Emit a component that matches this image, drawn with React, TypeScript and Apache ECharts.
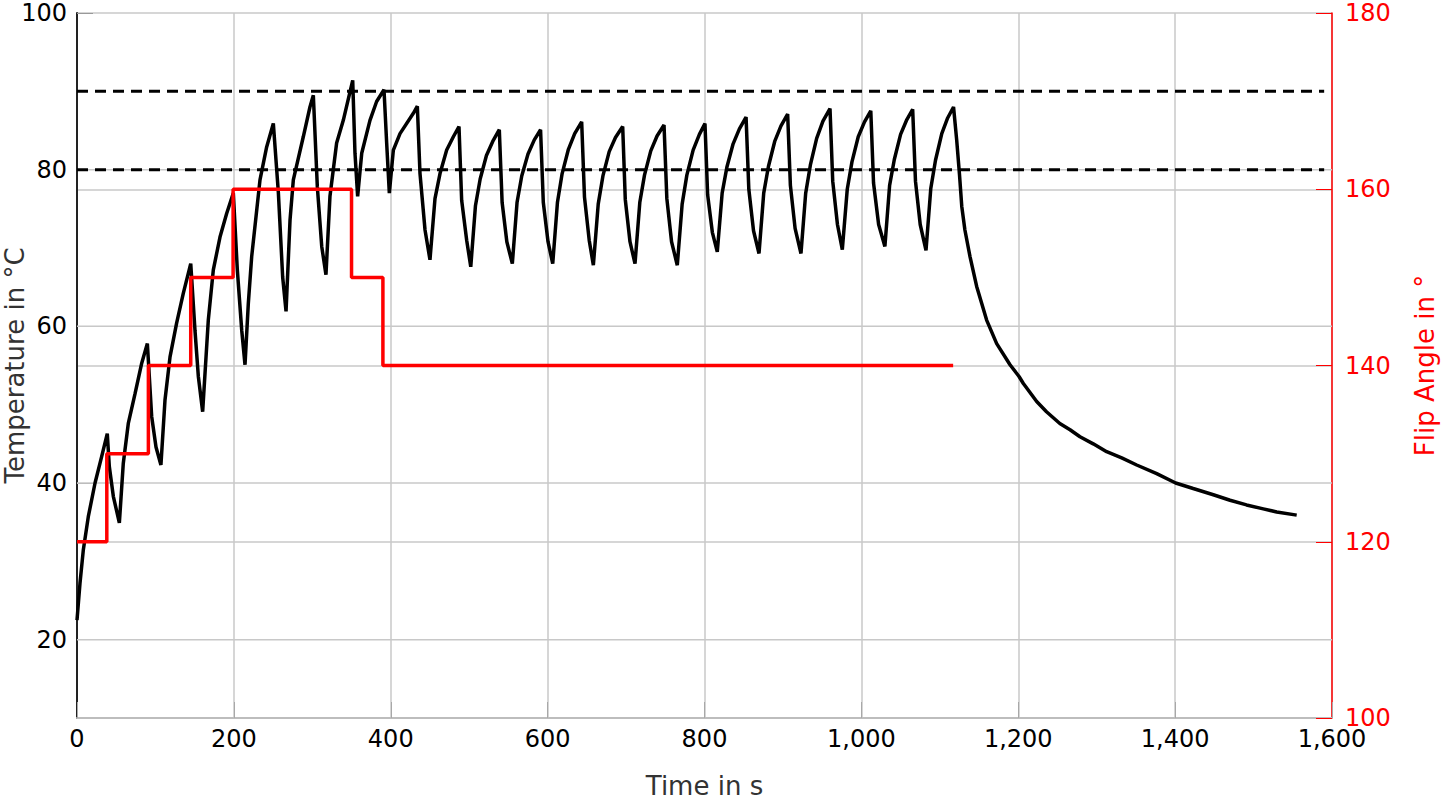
import { useEffect, useRef } from "react";
import * as echarts from "echarts";

// Temperature readings [time in s, temperature in °C]
const warmupPhase: [number, number][] = [
  [0, 22.5], [3.8, 27.2], [8, 31.4], [14.4, 35.7], [23, 40.0], [31.5, 43.4], [38.6, 46.3],
  [41.2, 42.1], [46.3, 38.3], [54, 34.9],
  [59, 42.5], [65.4, 47.6], [74, 51.4], [82.5, 55.3], [89.7, 57.8],
  [95.2, 48.5], [100.7, 44.6], [107, 42.3],
  [112.2, 50.6], [118.6, 56.1], [127, 60.4], [135.5, 64.2], [145, 68.0],
  [150.4, 59.5], [154.7, 53.6], [160.2, 49.1],
  [167.4, 60.8], [173.8, 67.2], [182.3, 71.4], [190.8, 74.4], [199.3, 77.0],
  [204.4, 67.2], [210, 59.5], [214.2, 55.1],
  [218.4, 62.9], [222.7, 68.9], [233.3, 78.7], [241.8, 82.9], [250.3, 85.9],
  [256.7, 77.1], [262.2, 66.3], [266.5, 61.9],
  [271.6, 73.6], [275.8, 78.7], [288.5, 84.2], [297, 88.0], [301.3, 89.5],
  [306.4, 77.8], [312, 70.2], [317.4, 66.6],
  [322.5, 76.6], [331, 83.4], [339.5, 86.3], [351.5, 91.4],
  [354.4, 82.1], [357.8, 76.6],
  [363, 82.1], [373.5, 86.3], [382, 88.7], [391.4, 90.2],
  [394.8, 83.4], [398.2, 77.0],
];

const holdPhase: [number, number][] = [
  [403.3, 82.5], [411.8, 84.6], [428.8, 87.2], [433.9, 88.1],
  [437.3, 79.5], [443.7, 72.3], [450, 68.5],
  [456.4, 76.3], [462.8, 79.5], [471.3, 82.5], [479.8, 84.2], [487, 85.5],
  [490.4, 76.1], [496.8, 71.0], [502, 67.6],
  [508, 75.4], [514, 78.8], [522, 81.8], [530, 83.6], [538.4, 85.1], [542, 75.8], [548, 70.8], [555, 68.0],
  [561, 75.8], [567, 79.2], [575, 82.0], [583, 83.8], [591, 85.1], [594.5, 75.8], [600.5, 70.8], [606.5, 68.0],
  [612.5, 75.8], [618.5, 79.5], [626.5, 82.6], [634.5, 84.6], [643.4, 86.1], [647, 76.5], [653, 71.0], [658.3, 67.8],
  [664.5, 75.6], [670.5, 79.2], [678.5, 82.3], [686.5, 84.1], [695.7, 85.5], [699, 76.2], [705, 70.8], [711.4, 68.0],
  [717.5, 75.8], [723.5, 79.3], [731.5, 82.4], [739.5, 84.3], [748.4, 85.7], [752, 76.3], [758, 70.8], [765.3, 67.8],
  [771.5, 75.6], [777.5, 79.3], [785.5, 82.5], [793.5, 84.5], [800.6, 85.9], [804, 76.8], [810, 72.0], [816.3, 69.5],
  [822.5, 77.0], [828.5, 80.3], [836.5, 83.3], [844.5, 85.2], [853, 86.7], [856.5, 77.5], [862.5, 72.2], [869.5, 69.3],
  [875.5, 77.0], [881.5, 80.4], [889.5, 83.6], [897.5, 85.6], [906, 87.1], [909.5, 78.0], [915.5, 72.5], [923, 69.3],
  [929, 77.0], [935, 80.6], [943, 84.0], [951, 86.2], [960, 87.8], [963.5, 78.5], [969.5, 73.0], [975.7, 69.8],
  [982, 77.5], [988, 81.0], [996, 84.2], [1004, 86.1], [1012, 87.5], [1015.5, 78.3], [1022, 73.0], [1030, 70.2],
  [1036, 78.0], [1042, 81.3], [1050, 84.5], [1058, 86.4], [1065.4, 87.7], [1069, 78.5], [1075, 73.0], [1082.4, 69.7],
  [1088.5, 77.6], [1094.5, 81.2], [1102.5, 84.6], [1110, 86.6], [1117.5, 88.0],
];

const coolingPhase: [number, number][] = [
  [1121.5, 83.8], [1125, 79.5], [1128, 75.3], [1132, 72.3], [1138.5, 68.9], [1147, 65.1],
  [1159.7, 60.8], [1172.5, 57.8], [1189.5, 55.1], [1201, 53.6], [1206.5, 52.7], [1223.5, 50.4],
  [1236, 49.1], [1253, 47.6], [1266, 46.8], [1278.7, 45.9], [1295.6, 45.0], [1312.7, 44.0],
  [1331.9, 43.2], [1351, 42.3], [1376.5, 41.2], [1400.7, 40.0], [1423, 39.3], [1448.7, 38.5],
  [1470, 37.8], [1491, 37.2], [1512.4, 36.7], [1529.5, 36.3], [1555, 35.9],
];

// Flip angle steps: switch times (s) and the angle (°) held from each time on
const flipStepTimes = [0, 38, 91, 145, 199, 350, 390];
const flipStepAngles = [120, 130, 140, 150, 160, 150, 140];
const flipEndTime = 1117;

// Reference temperature levels (dashed)
const thresholdLevels = [90, 80];
const thresholdEndTime = 1590;

// Axis ticks / grid
const xMax = 1600;
const leftTicks = [20, 40, 60, 80, 100];
const leftGridValues = [20, 40, 60, 80];

const FONT = "DejaVu Sans";

export default function App() {
  const ref = useRef<HTMLDivElement>(null);

  useEffect(() => {
    if (!ref.current) return;
    const chart = echarts.init(ref.current, undefined, { renderer: "svg" });

    const flipData: [number, number][] = [];
    for (let i = 0; i < flipStepTimes.length; i++) {
      const next = i + 1 < flipStepTimes.length ? flipStepTimes[i + 1] : flipEndTime;
      flipData.push([flipStepTimes[i], flipStepAngles[i]]);
      flipData.push([next, flipStepAngles[i]]);
    }

    const temperature = [...warmupPhase, ...holdPhase, ...coolingPhase];
    const gridColor = "#c8c8c8";

    chart.setOption({
      animation: false,
      grid: {
        left: 77,
        right: 109,
        top: 13,
        bottom: 83,
        containLabel: false,
        outerBoundsMode: "none",
      },
      xAxis: {
        type: "value",
        min: 0,
        max: xMax,
        interval: 200,
        name: "Time in s",
        nameLocation: "middle",
        nameGap: 55,
        nameMoveOverlap: false,
        nameTextStyle: { color: "#333", fontSize: 26, fontFamily: FONT },
        axisLine: { show: true, lineStyle: { color: "#bdbdbd", width: 2 } },
        axisTick: { show: true, inside: true, length: 16, lineStyle: { color: "#a8a8a8", width: 1 } },
        axisLabel: {
          color: "#000",
          fontSize: 24,
          fontFamily: FONT,
          margin: 9,
          showMinLabel: true,
          showMaxLabel: true,
          formatter: (v: number) => v.toLocaleString("en-US"),
        },
        splitLine: { show: true, lineStyle: { color: gridColor, width: 1.5 } },
      },
      yAxis: [
        {
          type: "value",
          position: "left",
          min: 10,
          max: 100,
          interval: 10,
          name: "Temperature in °C",
          nameLocation: "middle",
          nameRotate: 90,
          nameGap: 49,
          nameMoveOverlap: false,
          nameTextStyle: { color: "#333", fontSize: 26, fontFamily: FONT },
          axisLine: { show: true, lineStyle: { color: "#222", width: 2 } },
          axisTick: {
            show: true,
            inside: true,
            length: 16,
            customValues: leftTicks,
            lineStyle: { color: "#999", width: 1 },
          },
          axisLabel: {
            customValues: leftTicks,
            color: "#000",
            fontSize: 24,
            fontFamily: FONT,
            margin: 10,
            formatter: (v: number) => (v % 20 === 0 ? String(v) : ""),
          },
          splitLine: { show: false },
        },
        {
          type: "value",
          position: "right",
          min: 100,
          max: 180,
          interval: 20,
          name: "Flip Angle in °",
          nameLocation: "middle",
          nameRotate: 90,
          nameGap: 80,
          nameMoveOverlap: false,
          nameTextStyle: { color: "#ff0000", fontSize: 26, fontFamily: FONT },
          axisLine: { show: true, lineStyle: { color: "#ff0000", width: 1.5 } },
          axisTick: { show: true, inside: true, length: 16, lineStyle: { color: "#ff0000", width: 1 } },
          axisLabel: { color: "#ff0000", fontSize: 24, fontFamily: FONT, margin: 13 },
          splitLine: { show: true, lineStyle: { color: gridColor, width: 1.5 } },
        },
      ],
      series: [
        ...leftGridValues.map((v) => ({
          type: "line",
          yAxisIndex: 0,
          data: [
            [0, v],
            [xMax, v],
          ],
          symbol: "none",
          silent: true,
          z: 1,
          lineStyle: { color: gridColor, width: 1.5 },
        })),
        ...thresholdLevels.map((lvl) => ({
          type: "line",
          yAxisIndex: 0,
          data: [
            [0, lvl],
            [thresholdEndTime, lvl],
          ],
          symbol: "none",
          silent: true,
          z: 2,
          lineStyle: { color: "#000", width: 3, type: [11, 7] },
        })),
        {
          type: "line",
          name: "Temperature",
          yAxisIndex: 0,
          data: temperature,
          symbol: "none",
          z: 3,
          lineStyle: { color: "#000", width: 3.5 },
        },
        {
          type: "line",
          name: "Flip Angle",
          yAxisIndex: 1,
          data: flipData,
          symbol: "none",
          z: 4,
          lineStyle: { color: "#ff0000", width: 3.5 },
        },
      ],
    });

    return () => chart.dispose();
  }, []);

  return (
    <div
      ref={ref}
      style={{ position: "fixed", left: 0, top: 0, width: 1441, height: 801, background: "#fff" }}
    />
  );
}
